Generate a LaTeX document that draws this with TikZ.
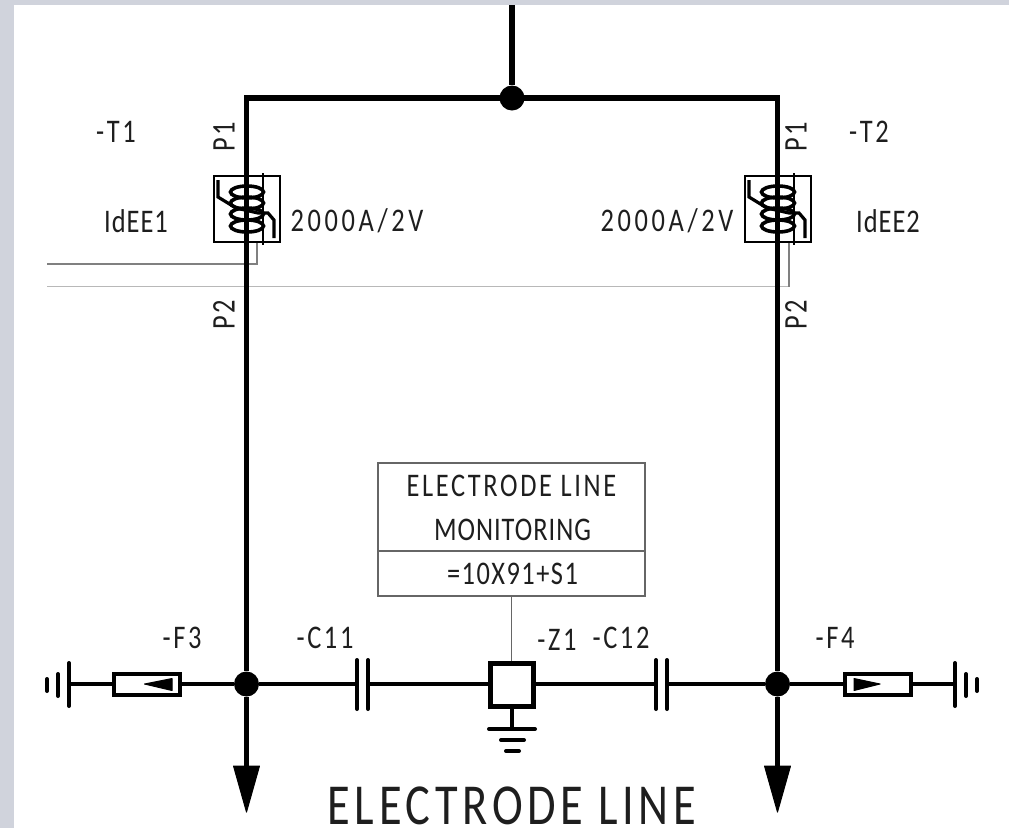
\documentclass[tikz,border=0pt]{standalone}
\usepackage{fontspec}
\setmainfont[LetterSpace=8,FakeStretch=0.8]{Carlito}
\usetikzlibrary{calc}
\definecolor{pagegray}{HTML}{D0D3DC}
\definecolor{sigA}{HTML}{808080}
\definecolor{sigB}{HTML}{B8B8B8}
\definecolor{boxgray}{HTML}{666666}
\definecolor{ink}{HTML}{1E1E1E}
\newcommand{\lsp}[1]{\addfontfeature{LetterSpace=#1}}
\tikzset{
  x=1pt,y=-1pt,
  wire/.style={draw=black,line width=4pt},
  bus/.style={draw=black,line width=5.3pt},
  plate/.style={draw=black,line width=4pt,line cap=round},
  dot/.style={circle,fill=black,draw=none,minimum size=25pt,inner sep=0pt},
  lbl/.style={font=\fontsize{33}{34}\selectfont,text=ink,inner sep=0pt,anchor=center},
  bigl/.style={font=\fontsize{58}{60}\selectfont,text=ink,inner sep=0pt,anchor=center},
  sig/.style={draw=#1,line width=1.5pt},
  arrowtip/.style={fill=black,draw=black,line width=1pt,line join=round},
  fusebox/.style={draw=black,line width=4pt,fill=white,minimum width=66pt,minimum height=21pt,inner sep=0pt},
  zbox/.style={draw=black,line width=5pt,fill=white,minimum width=43.5pt,minimum height=43pt,inner sep=0pt},
  ctbox/.style={draw=black,line width=2.5pt,minimum width=66pt,minimum height=66pt,inner sep=0pt},
  monbox/.style={draw=boxgray,line width=1.4pt,fill=white,minimum width=267pt,minimum height=133pt,inner sep=0pt},
  ct/.pic={
    \draw[line width=3.2pt] (-29,-1) -- (-29,16) -- (-11,27) -- (11,32) -- (21,32) -- (27,39) -- (27,57);
    \foreach \yy in {11,22,33,45}
      \draw[line width=3.6pt] (0,\yy) ellipse [x radius=16.5, y radius=6];
    \draw[line width=2.2pt] (16,-8) -- (16,64);
  }
}
\begin{document}
\begin{tikzpicture}
\useasboundingbox (0,0) rectangle (1009,828);
\fill[pagegray] (0,0) rectangle (1009,828);
\fill[white] (14,5) rectangle (1009,828);

% named anchors
\coordinate (top) at (512,5);
\coordinate (tl) at (246.5,98);
\coordinate (tr) at (777.5,98);
\coordinate (sigAend) at (47,264);
\coordinate (sigBend) at (47,286.5);
\coordinate (arrowL) at (246.5,767);
\coordinate (arrowR) at (777.5,767);
\coordinate (gL1) at (69,684);
\coordinate (gR1) at (955,684);
\coordinate (c11a) at (357,684);
\coordinate (c11b) at (368,684);
\coordinate (c12a) at (656,684);
\coordinate (c12b) at (667,684);
\coordinate (gz) at (512,729);

% current transformers
\node[ctbox] (T1) at (247,209) {};
\node[ctbox] (T2) at (778,209) {};
\pic at (247,181) {ct};
\pic at (778,181) {ct};

% secondary signal lines
\draw[sig=sigA] (257,243) |- (sigAend);
\draw[sig=sigB] (789,286.5) -- (sigBend);
\draw[sig=sigA] (789,243) -- (789,287);

% monitoring box
\node[monbox] (mon) at (511.5,529.5) {};
\draw[draw=boxgray,line width=1.4pt] (378,551) -- (645,551);
\node[lbl] (m1) at (511.5,486) {ELECTRODE LINE};
\node[lbl] (m2) at (512.5,530) {\lsp{3}MONITORING};
\node[lbl] (m3) at (512.5,574) {\lsp{4.5}=10X91+S1};

% junctions
\node[dot] (J) at (512,98) {};
\node[dot] (JL) at (246.5,684) {};
\node[dot] (JR) at (777.5,684) {};

% main bus
\draw[bus] (top) -- (J);
\draw[bus,line join=miter] (JL) -- (tl) -- (tr) -- (JR);
\draw[bus] (JL) -- (arrowL);
\draw[bus] (JR) -- (arrowR);
\fill[arrowtip] (233.5,766) -- (259.5,766) -- (246.5,812) -- cycle;
\fill[arrowtip] (764.5,766) -- (790.5,766) -- (777.5,812) -- cycle;

% fuses
\node[fusebox] (F3) at (147,684) {};
\node[fusebox] (F4) at (877.5,684) {};
\draw[wire] (gL1) -- (F3);
\draw[wire] (F3) -- (JL);
\draw[wire] (JR) -- (F4);
\draw[wire] (F4) -- (gR1);
\fill[arrowtip] (144.5,684) -- (172,678.5) -- (172,690.5) -- cycle;
\fill[arrowtip] (880,684) -- (854,678.5) -- (854,690.5) -- cycle;

% earths left/right
\draw[plate] (69,663) -- (69,706);
\draw[plate] (58,674) -- (58,696);
\draw[plate] (47,679) -- (47,691);
\draw[plate] (955,663) -- (955,706);
\draw[plate] (966,674) -- (966,696);
\draw[plate] (977,679) -- (977,691);

% capacitors and Z1
\node[zbox] (Z1) at (512,684.5) {};
\draw[sig=boxgray] (mon.south) -- (mon.south |- Z1.north);
\draw[wire] (JL) -- (c11a);
\draw[wire] (c11b) -- (c11b -| Z1.west);
\draw[wire] (c12a -| Z1.east) -- (c12a);
\draw[wire] (c12b) -- (JR);
\draw[plate] (357,660) -- (357,709);
\draw[plate] (368,660) -- (368,709);
\draw[plate] (656,660) -- (656,709);
\draw[plate] (667,660) -- (667,709);

% Z1 earth
\draw[wire] (Z1.south) -- (gz);
\draw[plate] (489,729) -- (535,729);
\draw[plate] (501,740) -- (524,740);
\draw[plate] (506,751) -- (519,751);

% labels
\node[lbl] (lT1) at (116,132) {-T1};
\node[lbl] (lT2) at (869,132) {-T2};
\node[lbl,rotate=90] (p1a) at (224,137) {P1};
\node[lbl,rotate=90] (p2a) at (224,315) {P2};
\node[lbl,rotate=90] (p1b) at (796,137) {P1};
\node[lbl,rotate=90] (p2b) at (796,315) {P2};
\node[lbl] (id1) at (136,221) {\lsp{3}IdEE1};
\node[lbl] (id2) at (888,221) {\lsp{3}IdEE2};
\node[lbl] (ra1) at (357,221) {\lsp{11}2000A/2V};
\node[lbl] (ra2) at (667,221) {\lsp{11}2000A/2V};
\node[lbl] (lF3) at (182,637.5) {-F3};
\node[lbl] (lC11) at (325,637.5) {-C11};
\node[lbl] (lZ1) at (557,640) {-Z1};
\node[lbl] (lC12) at (621,638) {-C12};
\node[lbl] (lF4) at (835,637.5) {-F4};
\node[bigl] (ttl) at (512,806) {ELECTRODE LINE};
\end{tikzpicture}
\end{document}
